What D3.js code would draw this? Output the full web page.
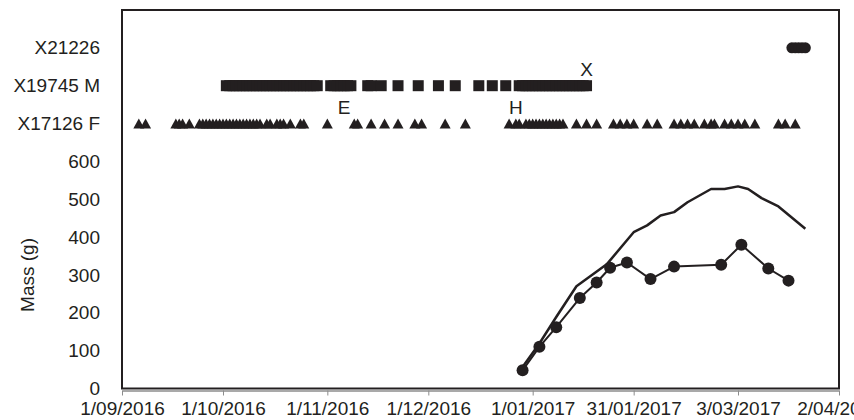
<!DOCTYPE html>
<html>
<head>
<meta charset="utf-8">
<script src="https://cdn.jsdelivr.net/npm/d3@7"></script>
<style>
  html, body { margin: 0; padding: 0; background: #fff; }
  svg { display: block; font-family: "Liberation Sans", Arial, Helvetica, sans-serif; }
</style>
</head>
<body>
<svg id="chart" width="854" height="420"></svg>
<script>
// ---- axis ticks ----
const xTickDates  = ["2016-09-01","2016-10-01","2016-11-01","2016-12-01","2017-01-01","2017-01-31","2017-03-03","2017-04-02"];
const xTickLabels = ["1/09/2016","1/10/2016","1/11/2016","1/12/2016","1/01/2017","31/01/2017","3/03/2017","2/04/2017"];
const yTicks = [0, 100, 200, 300, 400, 500, 600];

// ---- detection rows (one per animal, drawn above the mass scale) ----
const rowNames  = ["X17126 F", "X19745 M", "X21226"];
const rowLevels = [700, 800, 900];

// X17126 F detections (triangles)
const triangleDates = [
  "2016-09-06","2016-09-08","2016-09-17","2016-09-18","2016-09-19","2016-09-21",
  "2016-09-24","2016-09-25","2016-09-26","2016-09-27","2016-09-28","2016-09-29","2016-09-30",
  "2016-10-01","2016-10-02","2016-10-03","2016-10-04","2016-10-05","2016-10-06","2016-10-07",
  "2016-10-08","2016-10-09","2016-10-10","2016-10-11","2016-10-12","2016-10-14","2016-10-15",
  "2016-10-17","2016-10-18","2016-10-19","2016-10-21","2016-10-24","2016-10-25",
  "2016-11-01","2016-11-09","2016-11-10","2016-11-14","2016-11-18","2016-11-22","2016-11-27","2016-11-29",
  "2016-12-06","2016-12-12","2016-12-25","2016-12-27","2016-12-28","2016-12-30","2016-12-31",
  "2017-01-01","2017-01-02","2017-01-03","2017-01-04","2017-01-05","2017-01-06","2017-01-07",
  "2017-01-08","2017-01-09","2017-01-10","2017-01-14","2017-01-17","2017-01-20",
  "2017-01-25","2017-01-27","2017-01-29","2017-01-31","2017-02-04","2017-02-07",
  "2017-02-12","2017-02-14","2017-02-16","2017-02-18","2017-02-21","2017-02-23","2017-02-24",
  "2017-02-27","2017-03-01","2017-03-03","2017-03-05","2017-03-08","2017-03-15","2017-03-17","2017-03-20"
];

// X19745 M detections (squares)
const squareDates = [
  "2016-10-02","2016-10-03","2016-10-04","2016-10-05","2016-10-06","2016-10-07","2016-10-08",
  "2016-10-09","2016-10-10","2016-10-11","2016-10-12","2016-10-13","2016-10-14","2016-10-15",
  "2016-10-16","2016-10-17","2016-10-18","2016-10-19","2016-10-20","2016-10-21","2016-10-22",
  "2016-10-23","2016-10-24","2016-10-25","2016-10-26","2016-10-27","2016-10-28","2016-10-29",
  "2016-11-02","2016-11-03","2016-11-04","2016-11-05","2016-11-06","2016-11-07","2016-11-08",
  "2016-11-13","2016-11-14","2016-11-17","2016-11-22","2016-11-28",
  "2016-12-04","2016-12-09","2016-12-16","2016-12-20","2016-12-24",
  "2016-12-28","2016-12-29","2016-12-30","2016-12-31","2017-01-01","2017-01-02","2017-01-03",
  "2017-01-04","2017-01-05","2017-01-06","2017-01-07","2017-01-08","2017-01-09","2017-01-10",
  "2017-01-11","2017-01-12","2017-01-13","2017-01-14","2017-01-15","2017-01-16","2017-01-17"
];

// X21226 detections (circles)
const circleDates = ["2017-03-19","2017-03-20","2017-03-21","2017-03-22","2017-03-23"];

// event letters written over the detection rows
const noteLabels = ["E", "H", "X"];
const noteDates  = ["2016-11-06", "2016-12-27", "2017-01-17"];
const noteLevels = [700, 700, 800];

// ---- body mass series ----
const massPlainDates = [
  "2016-12-29","2017-01-03","2017-01-08","2017-01-14","2017-01-23","2017-01-31","2017-02-04",
  "2017-02-08","2017-02-12","2017-02-16","2017-02-23","2017-02-27","2017-03-03","2017-03-06",
  "2017-03-10","2017-03-15","2017-03-23"
];
const massPlainValues = [57, 119, 189, 270, 328, 413, 431, 457, 466, 492, 527, 527, 534, 527, 503, 481, 422];

const massDotDates = [
  "2016-12-29","2017-01-03","2017-01-08","2017-01-15","2017-01-20","2017-01-24","2017-01-29",
  "2017-02-05","2017-02-12","2017-02-26","2017-03-04","2017-03-12","2017-03-18"
];
const massDotValues = [48, 110, 162, 239, 280, 319, 333, 289, 322, 327, 380, 317, 285];

// ---- layout ----
const W = 854, H = 420;
const plot = { left: 122, right: 839, top: 10, bottom: 388.5 };
const ink = "#231f20";
const fontSize = 19;

const parse = d3.utcParse("%Y-%m-%d");
const svg = d3.select("#chart");

const x = d3.scaleUtc()
  .domain([parse("2016-09-01"), parse("2017-04-02")])
  .range([plot.left, plot.right]);
const y = d3.scaleLinear()
  .domain([0, 1000])
  .range([plot.bottom, plot.top]);

// bottom date axis (grey, ticks outward)
const xAxis = d3.axisBottom(x)
  .tickValues(xTickDates.map(parse))
  .tickFormat((d, i) => xTickLabels[i])
  .tickSize(5)
  .tickSizeOuter(0)
  .tickPadding(6);
const gx = svg.append("g")
  .attr("transform", `translate(0,${plot.bottom + 2})`)
  .call(xAxis);
gx.select(".domain").attr("stroke", "#8c8c8c").attr("stroke-width", 1.5);
gx.selectAll(".tick line").attr("stroke", "#8c8c8c").attr("stroke-width", 1);
gx.selectAll(".tick text")
  .attr("fill", ink)
  .style("font-size", fontSize + "px")
  .style("font-family", "'Liberation Sans', Arial, sans-serif");

// left axis: mass values plus the animal rows
const rowLabel = new Map(rowLevels.map((v, i) => [v, rowNames[i]]));
const yAxis = d3.axisLeft(y)
  .tickValues(yTicks.concat(rowLevels))
  .tickFormat(d => rowLabel.has(d) ? rowLabel.get(d) : d)
  .tickSize(0)
  .tickPadding(22);
const gy = svg.append("g")
  .attr("transform", `translate(${plot.left},0)`)
  .call(yAxis);
gy.select(".domain").remove();
gy.selectAll(".tick text")
  .attr("fill", ink)
  .style("font-size", fontSize + "px")
  .style("font-family", "'Liberation Sans', Arial, sans-serif");

// axis title
svg.append("text")
  .attr("transform", `translate(34,${y(300)}) rotate(-90)`)
  .attr("text-anchor", "middle")
  .attr("fill", ink)
  .style("font-size", fontSize + "px")
  .text("Mass (g)");

// plot frame
svg.append("rect")
  .attr("x", plot.left)
  .attr("y", plot.top)
  .attr("width", plot.right - plot.left)
  .attr("height", plot.bottom - plot.top)
  .attr("fill", "none")
  .attr("stroke", ink)
  .attr("stroke-width", 2);

// detection markers
const triW = 11, triH = 10;
const triPath = `M${-triW / 2},${triH / 2}L0,${-triH / 2}L${triW / 2},${triH / 2}Z`;
svg.append("g").selectAll("path")
  .data(triangleDates)
  .join("path")
  .attr("d", triPath)
  .attr("transform", d => `translate(${x(parse(d))},${y(rowLevels[0])})`)
  .attr("fill", ink);

const sq = 11;
svg.append("g").selectAll("rect")
  .data(squareDates)
  .join("rect")
  .attr("x", d => x(parse(d)) - sq / 2)
  .attr("y", y(rowLevels[1]) - sq / 2)
  .attr("width", sq)
  .attr("height", sq)
  .attr("fill", ink);

svg.append("g").selectAll("circle")
  .data(circleDates)
  .join("circle")
  .attr("cx", d => x(parse(d)))
  .attr("cy", y(rowLevels[2]))
  .attr("r", 5.5)
  .attr("fill", ink);

// event letters
svg.append("g").selectAll("text")
  .data(noteLabels)
  .join("text")
  .attr("x", (d, i) => x(parse(noteDates[i])))
  .attr("y", (d, i) => y(noteLevels[i]) - 10)
  .attr("text-anchor", "middle")
  .attr("fill", ink)
  .style("font-size", fontSize + "px")
  .text(d => d);

// mass lines
const line = d3.line()
  .x(d => x(d.date))
  .y(d => y(d.value));

const plainData = massPlainDates.map((d, i) => ({ date: parse(d), value: massPlainValues[i] }));
const dotData = massDotDates.map((d, i) => ({ date: parse(d), value: massDotValues[i] }));

svg.append("path")
  .datum(plainData)
  .attr("d", line)
  .attr("fill", "none")
  .attr("stroke", ink)
  .attr("stroke-width", 2.5)
  .attr("stroke-linejoin", "round");

svg.append("path")
  .datum(dotData)
  .attr("d", line)
  .attr("fill", "none")
  .attr("stroke", ink)
  .attr("stroke-width", 2)
  .attr("stroke-linejoin", "round");

svg.append("g").selectAll("circle")
  .data(dotData)
  .join("circle")
  .attr("cx", d => x(d.date))
  .attr("cy", d => y(d.value))
  .attr("r", 6)
  .attr("fill", ink);
</script>
</body>
</html>
